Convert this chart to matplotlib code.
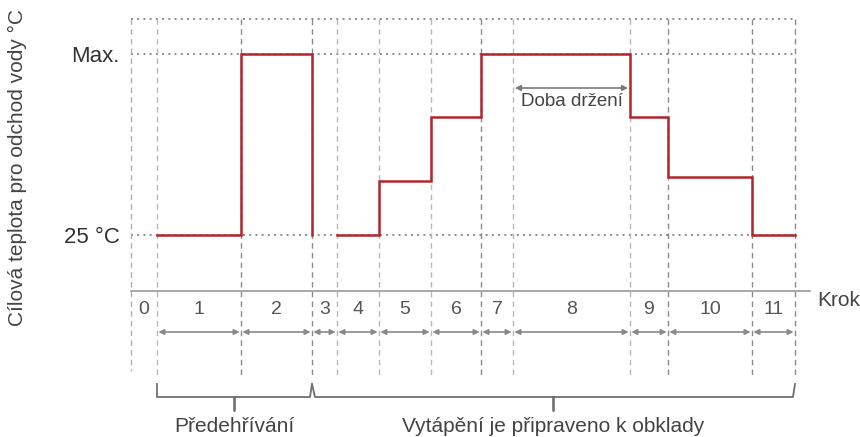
import numpy as np
import matplotlib
matplotlib.use("Agg")
import matplotlib.pyplot as plt
from matplotlib import transforms

plt.rcParams['font.family'] = ['Liberation Sans', 'DejaVu Sans']

# Step numbers and their relative durations
step_labels = ['0', '1', '2', '3', '4', '5', '6', '7', '8', '9', '10', '11']
step_durations = [26, 84, 71, 25, 42, 52, 50, 32, 117, 38, 84, 43]
# Target outlet temperature per step: 0 = 25 °C, 1 = Max. (None = no setpoint drawn)
step_levels = [None, 0.0, 1.0, None, 0.0, 0.30, 0.65, 1.0, 1.0, 0.65, 0.32, 0.0]
level_ticks = [0.0, 1.0]
level_tick_labels = ['25 °C', 'Max.']
hold_step = 8
phase_names = ['Předehřívání', 'Vytápění je připraveno k obklady']
phase_steps = [(1, 3), (3, 12)]   # (first edge index, last edge index)

edges = np.concatenate([[0], np.cumsum(step_durations)])

W, H = 860, 437
fig = plt.figure(figsize=(W / 100, H / 100), dpi=100)
ax = fig.add_axes([131 / W, 1 - 291 / H, (810 - 131) / W, (291 - 19) / H])

y_bottom = -56 / 181
y_top = 216 / 181
ax.set_xlim(0, 679)
ax.set_ylim(y_bottom, y_top)

for s in ['top', 'right', 'left']:
    ax.spines[s].set_visible(False)
ax.spines['bottom'].set_color('#9a9a9a')
ax.spines['bottom'].set_linewidth(1.2)
ax.set_xticks([])
ax.set_yticks(level_ticks)
ax.set_yticklabels(level_tick_labels, fontsize=16, color='#333333')
ax.tick_params(axis='y', length=0, pad=8)

def fy(px):
    """figure-fraction y for a pixel row"""
    return 1 - px / H

blend = transforms.blended_transform_factory(ax.transData, fig.transFigure)

grid_gray = '#8c8c8c'
dot_style = dict(color=grid_gray, lw=1.4, linestyle=(0, (1, 2.2)), zorder=1)

# dotted frame lines: top and the two reference levels
ax.plot([edges[0], edges[-1]], [y_top, y_top], clip_on=False, **dot_style)
for lv in level_ticks:
    ax.plot([edges[0], edges[-1]], [lv, lv], **dot_style)

# dashed vertical step boundaries
major_edges = {2, 3, 7, 10, 11, 12}
ax.plot([edges[0], edges[0]], [fy(19), fy(371)], transform=blend, clip_on=False,
        color='#b0b0b0', lw=1.0, linestyle=(0, (4, 3)), zorder=1)
for i in range(1, len(edges)):
    col = '#8a8a8a' if i in major_edges else '#b8b8b8'
    ax.plot([edges[i], edges[i]], [fy(19), fy(376)], transform=blend, clip_on=False,
            color=col, lw=1.0, linestyle=(0, (4, 3)), zorder=1)

# setpoint curve built as step segments
red = '#b0262b'
xs, ys = [], []
prev = None
for i, lv in enumerate(step_levels):
    if lv is None:
        if prev is not None:
            xs.append(edges[i]); ys.append(level_ticks[0])
            xs.append(np.nan); ys.append(np.nan)
        prev = None
        continue
    if prev is not None and prev != lv:
        xs.append(edges[i]); ys.append(lv)
    elif prev is None:
        xs.append(edges[i]); ys.append(lv)
    xs.append(edges[i + 1]); ys.append(lv)
    prev = lv
ax.plot(xs, ys, color=red, lw=1.8, solid_joinstyle='miter', zorder=5)

# hold time arrow
ax.annotate('', xy=(edges[hold_step + 1] - 2, fy(88)), xytext=(edges[hold_step] + 2, fy(88)),
            xycoords=blend, textcoords=blend,
            arrowprops=dict(arrowstyle='<|-|>', color='#7a7a7a', lw=1.2,
                            shrinkA=0, shrinkB=0, mutation_scale=8))
ax.text((edges[hold_step] + edges[hold_step + 1]) / 2, fy(102), 'Doba držení',
        transform=blend, ha='center', va='center', fontsize=13.5, color='#444444')

# step numbers and duration arrows
for i, lab in enumerate(step_labels):
    xc = (edges[i] + edges[i + 1]) / 2
    ax.text(xc, fy(310), lab, transform=blend, ha='center', va='center',
            fontsize=14, color='#555555')
    if i == 0:
        continue
    ax.annotate('', xy=(edges[i + 1], fy(332)), xytext=(edges[i], fy(332)),
                xycoords=blend, textcoords=blend, annotation_clip=False,
                arrowprops=dict(arrowstyle='<|-|>', color='#8a8a8a', lw=1.2,
                                shrinkA=1, shrinkB=1, mutation_scale=8))

ax.text(edges[-1] + 22, fy(300), 'Krok', transform=blend, ha='left', va='center',
        fontsize=15, color='#444444')

# phase braces
brace_col = '#6f6f6f'
for (a, b), name in zip(phase_steps, phase_names):
    xa, xb = edges[a], edges[b]
    xm = (xa + xb) / 2
    px = [xa, xa, xm, xm, xm, xb - 2, xb]
    py = [fy(384), fy(397), fy(397), fy(411), fy(397), fy(397), fy(384)]
    if a == 3:
        px[0], px[1] = xa, xa + 3
    ax.plot(px, py, transform=blend, clip_on=False, color=brace_col, lw=1.3,
            solid_joinstyle='round')
    ax.text(xm, fy(436), name, transform=blend, ha='center', va='bottom',
            fontsize=15, color='#444444')

fig.text(17 / W, fy(168), 'Cílová teplota pro odchod vody °C', rotation=90,
         ha='center', va='center', fontsize=15, color='#444444')

fig.savefig('out.png', dpi=100)
